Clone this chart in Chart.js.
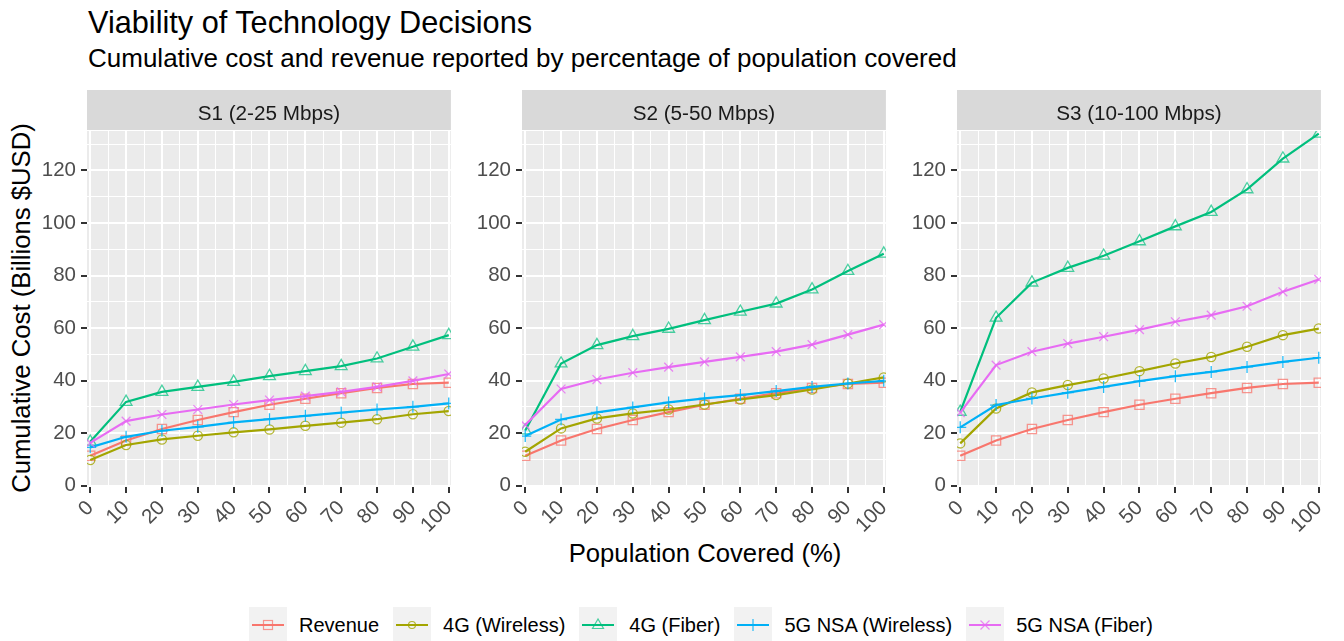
<!DOCTYPE html>
<html>
<head>
<meta charset="utf-8">
<script src="https://cdn.jsdelivr.net/npm/chart.js@4.4.1/dist/chart.umd.min.js"></script>
<style>
  body { margin: 0; width: 1344px; height: 641px; background: #fff; position: relative; overflow: hidden;
         font-family: "Liberation Sans", Arial, sans-serif; }
  .txt { position: absolute; white-space: nowrap; line-height: 1; }
  #title { left: 88px; top: 8px; font-size: 30.7px; color: #000; }
  #subtitle { left: 88px; top: 45px; font-size: 26px; color: #000; }
  #xtitle { left: 705px; top: 541px; font-size: 25.7px; color: #000; transform: translateX(-50%); }
  #ytitle { left: 22px; top: 308px; font-size: 25.7px; color: #000; transform: translate(-50%, -50%) rotate(-90deg); }
  canvas.panel { position: absolute; top: 90px; }
  #legend { position: absolute; left: 249px; top: 607px; display: flex; align-items: center; height: 36px; }
  #legend .key { width: 38px; height: 36px; margin-right: 12px; }
  #legend .lab { font-size: 20px; color: #000; margin-right: 14px; white-space: nowrap; }
</style>
</head>
<body>
<div class="txt" id="title">Viability of Technology Decisions</div>
<div class="txt" id="subtitle">Cumulative cost and revenue reported by percentage of population covered</div>
<div class="txt" id="ytitle">Cumulative Cost (Billions $USD)</div>
<div class="txt" id="xtitle">Population Covered (%)</div>
<canvas class="panel" id="p1" width="434" height="442" style="left:25px"></canvas>
<canvas class="panel" id="p2" width="434" height="442" style="left:460px"></canvas>
<canvas class="panel" id="p3" width="434" height="442" style="left:895px"></canvas>
<div id="legend"></div>

<script>
// ---- data ----
const popCovered = [0, 10, 20, 30, 40, 50, 60, 70, 80, 90, 100];
const xTicks = [0, 10, 20, 30, 40, 50, 60, 70, 80, 90, 100];
const yTicks = [0, 20, 40, 60, 80, 100, 120];
const scenarioTitles = ['S1 (2-25 Mbps)', 'S2 (5-50 Mbps)', 'S3 (10-100 Mbps)'];
const seriesNames = ['Revenue', '4G (Wireless)', '4G (Fiber)', '5G NSA (Wireless)', '5G NSA (Fiber)'];

const revenue = [11.4, 17.2, 21.6, 25.0, 28.0, 30.8, 33.1, 35.2, 37.2, 38.7, 39.2];

const s1Wireless4G = [9.8, 15.5, 17.6, 19.0, 20.3, 21.4, 22.8, 24.0, 25.3, 27.2, 28.4];
const s1Fiber4G = [16.7, 31.9, 35.7, 37.6, 39.5, 41.7, 43.6, 45.5, 48.4, 52.9, 57.3];
const s1Wireless5G = [14.6, 18.6, 20.9, 22.4, 24.1, 25.3, 26.6, 27.8, 29.0, 30.0, 31.3];
const s1Fiber5G = [16.3, 24.6, 27.1, 29.0, 30.9, 32.6, 34.1, 35.7, 37.6, 39.9, 42.5];

const s2Wireless4G = [12.9, 21.8, 25.6, 27.5, 29.0, 30.9, 32.8, 34.5, 36.6, 38.9, 41.2];
const s2Fiber4G = [21.0, 46.5, 53.5, 56.9, 59.7, 63.0, 66.2, 69.3, 74.7, 81.7, 88.3];
const s2Wireless5G = [18.9, 25.2, 27.9, 29.8, 31.7, 33.2, 34.5, 36.0, 37.6, 38.9, 39.9];
const s2Fiber5G = [23.1, 36.8, 40.4, 43.0, 45.1, 47.1, 49.0, 51.0, 53.7, 57.5, 61.3];

const s3Wireless4G = [16.1, 29.4, 35.5, 38.3, 40.8, 43.6, 46.5, 49.0, 52.9, 57.3, 59.8];
const s3Fiber4G = [28.1, 63.9, 77.3, 82.9, 87.5, 93.0, 98.7, 104.2, 112.8, 124.5, 134.0];
const s3Wireless5G = [22.2, 30.7, 33.2, 35.4, 37.6, 39.8, 41.7, 43.3, 45.2, 47.1, 48.7];
const s3Fiber5G = [27.8, 45.9, 51.0, 54.1, 56.7, 59.4, 62.4, 64.9, 68.3, 73.8, 78.5];

const scenarios = [
    [revenue, s1Wireless4G, s1Fiber4G, s1Wireless5G, s1Fiber5G],
    [revenue, s2Wireless4G, s2Fiber4G, s2Wireless5G, s2Fiber5G],
    [revenue, s3Wireless4G, s3Fiber4G, s3Wireless5G, s3Fiber5G]
];

// ---- styles ----
const seriesColors = ['#F8766D', '#A3A500', '#00BF7D', '#00B0F6', '#E76BF3'];
const pointColors = ['rgba(248,118,109,0.75)', 'rgba(163,165,0,0.8)', 'rgba(0,191,125,0.7)', 'rgba(0,176,246,0.85)', 'rgba(231,107,243,0.8)'];
const pointStyles = ['rect', 'circle', 'triangle', 'cross', 'crossRot'];
const pointSizes = [6.5, 4.6, 6.8, 6, 6.2];
const FONT = '"Liberation Sans", Arial, sans-serif';

// every 5 / every 10 so the minor grid lines show like ggplot
function withMinor(major) {
    const out = [];
    const step = major[1] - major[0];
    major.forEach(v => { out.push(v); out.push(v + step / 2); });
    return out;
}
const xGrid = withMinor(xTicks).filter(v => v <= 100);
const yGrid = withMinor(yTicks);

const panelBg = {
    id: 'panelBg',
    beforeDraw(chart) {
        const a = chart.chartArea;
        const ctx = chart.ctx;
        ctx.save();
        ctx.fillStyle = '#EBEBEB';
        ctx.fillRect(a.left, a.top, a.right - a.left, a.bottom - a.top);
        ctx.fillStyle = '#D9D9D9';
        ctx.fillRect(a.left, 0, a.right - a.left, 40);
        ctx.fillStyle = '#1A1A1A';
        ctx.font = '20.7px ' + FONT;
        ctx.textAlign = 'center';
        ctx.textBaseline = 'alphabetic';
        ctx.fillText(chart.options.plugins.stripTitle, (a.left + a.right) / 2, 29.5);
        ctx.restore();
    }
};

function makePanel(canvasId, idx) {
    const datasets = scenarios[idx].map((vals, i) => ({
        label: seriesNames[i],
        data: popCovered.map((x, j) => ({ x: x, y: vals[j] })),
        borderColor: seriesColors[i],
        borderWidth: 2.2,
        pointStyle: pointStyles[i],
        pointRadius: pointSizes[i],
        pointBorderColor: pointColors[i],
        pointBackgroundColor: 'rgba(0,0,0,0)',
        pointBorderWidth: 1.3,
        tension: 0,
        order: 5 - i
    }));

    return new Chart(document.getElementById(canvasId).getContext('2d'), {
        type: 'line',
        data: { datasets: datasets },
        options: {
            responsive: false,
            animation: false,
            devicePixelRatio: 1,
            layout: { padding: { top: 41, right: 4, left: 0, bottom: 0 } },
            plugins: {
                legend: { display: false },
                tooltip: { enabled: false },
                stripTitle: scenarioTitles[idx]
            },
            scales: {
                x: {
                    type: 'linear',
                    min: -0.9,
                    max: 100.6,
                    afterBuildTicks: axis => { axis.ticks = xGrid.map(v => ({ value: v })); },
                    afterFit: axis => { axis.height = 45; axis.paddingLeft = 0; axis.paddingRight = 0; },
                    border: { display: false },
                    grid: {
                        color: '#FFFFFF',
                        lineWidth: c => (c.tick && xTicks.includes(c.tick.value)) ? 2 : 1,
                        drawTicks: true,
                        tickLength: 6,
                        tickWidth: 2,
                        tickColor: c => (c.tick && xTicks.includes(c.tick.value)) ? '#333333' : 'rgba(0,0,0,0)'
                    },
                    ticks: {
                        autoSkip: false,
                        minRotation: 45,
                        maxRotation: 45,
                        padding: 3,
                        color: '#4D4D4D',
                        font: { family: FONT, size: 20.5 },
                        callback: v => xTicks.includes(v) ? String(v) : ''
                    }
                },
                y: {
                    type: 'linear',
                    min: -0.5,
                    max: 135,
                    afterBuildTicks: axis => { axis.ticks = yGrid.map(v => ({ value: v })); },
                    afterFit: axis => { axis.width = 62; axis.paddingTop = 0; axis.paddingBottom = 0; },
                    border: { display: false },
                    grid: {
                        color: '#FFFFFF',
                        lineWidth: c => (c.tick && yTicks.includes(c.tick.value)) ? 2 : 1,
                        drawTicks: true,
                        tickLength: 6,
                        tickWidth: 2,
                        tickColor: c => (c.tick && yTicks.includes(c.tick.value)) ? '#333333' : 'rgba(0,0,0,0)'
                    },
                    ticks: {
                        autoSkip: false,
                        padding: 5,
                        color: '#4D4D4D',
                        font: { family: FONT, size: 20.5 },
                        callback: v => yTicks.includes(v) ? String(v) : ''
                    }
                }
            }
        },
        plugins: [panelBg]
    });
}

makePanel('p1', 0);
makePanel('p2', 1);
makePanel('p3', 2);

// legend like ggplot keys
function markerSvg(style, color) {
    const cx = 19, cy = 18;
    if (style === 'rect') return `<rect x="${cx - 4.5}" y="${cy - 4.5}" width="9" height="9" fill="none" stroke="${color}" stroke-width="1.2"/>`;
    if (style === 'circle') return `<circle cx="${cx}" cy="${cy}" r="3.5" fill="none" stroke="${color}" stroke-width="1.2"/>`;
    if (style === 'triangle') return `<polygon points="${cx},${cy - 6} ${cx - 5.5},${cy + 3.5} ${cx + 5.5},${cy + 3.5}" fill="none" stroke="${color}" stroke-width="1.2"/>`;
    if (style === 'cross') return `<path d="M${cx} ${cy - 6}V${cy + 6}M${cx - 6} ${cy}H${cx + 6}" stroke="${color}" stroke-width="1.2"/>`;
    return `<path d="M${cx - 4.5} ${cy - 4.5}L${cx + 4.5} ${cy + 4.5}M${cx - 4.5} ${cy + 4.5}L${cx + 4.5} ${cy - 4.5}" stroke="${color}" stroke-width="1.2"/>`;
}

const legendDiv = document.getElementById('legend');
seriesNames.forEach((name, i) => {
    legendDiv.innerHTML += `<svg class="key" width="38" height="36"><rect width="38" height="36" fill="#F2F2F2"/>` +
        `<line x1="3" y1="18" x2="35" y2="18" stroke="${seriesColors[i]}" stroke-width="2"/>` +
        markerSvg(pointStyles[i], pointColors[i]) + `</svg><span class="lab">${name}</span>`;
});
</script>
</body>
</html>
